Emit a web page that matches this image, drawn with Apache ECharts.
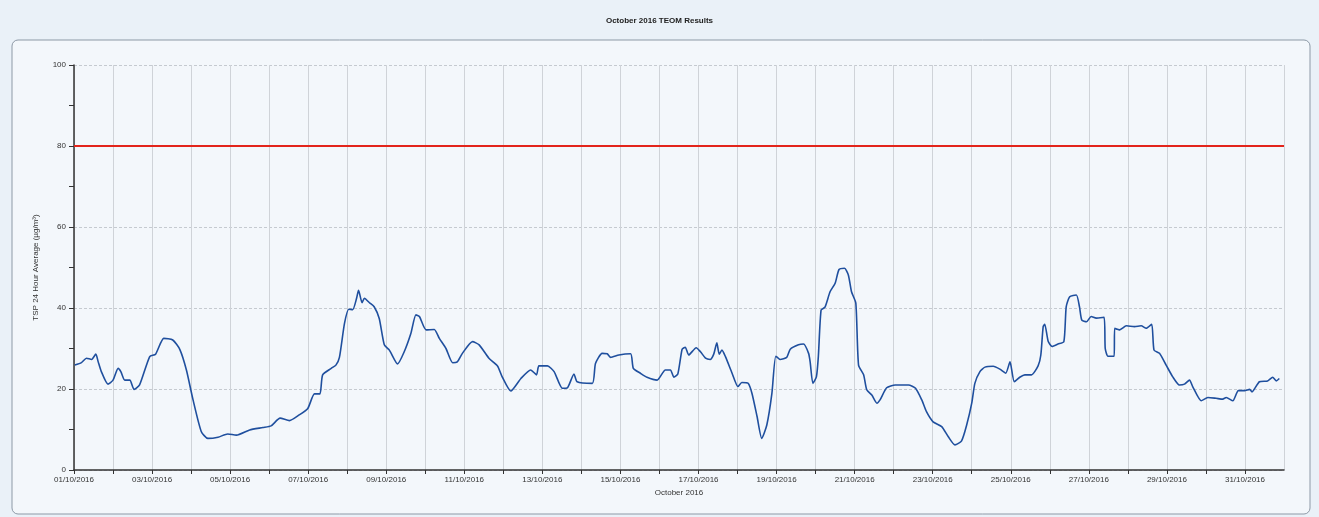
<!DOCTYPE html>
<html>
<head>
<meta charset="utf-8">
<script src="https://cdn.jsdelivr.net/npm/echarts@6/dist/echarts.min.js"></script>
<style>
html,body{margin:0;padding:0;background:#eaf1f8;}
#chart{width:1319px;height:517px;}
</style>
</head>
<body>
<div id="chart"></div>
<script>
// Day offsets from 01/10/2016 00:00 (fractional days)
const days = [0.02,0.19,0.32,0.45,0.56,0.62,0.70,0.87,1.00,1.13,1.20,1.30,1.43,1.54,1.68,1.94,2.09,2.30,2.53,2.71,2.88,3.05,3.26,3.43,3.69,3.94,4.16,4.50,4.84,5.05,5.28,5.52,5.77,5.99,6.16,6.30,6.37,6.59,6.71,6.80,6.93,7.04,7.14,7.24,7.29,7.38,7.44,7.57,7.69,7.82,7.95,8.08,8.29,8.46,8.63,8.76,8.85,9.02,9.23,9.36,9.53,9.70,9.82,9.95,10.21,10.38,10.63,10.85,10.97,11.19,11.45,11.70,11.85,11.91,12.13,12.30,12.51,12.64,12.81,12.89,13.28,13.36,13.53,13.66,13.75,13.96,14.26,14.33,14.51,14.68,14.94,15.15,15.28,15.37,15.47,15.58,15.66,15.75,15.94,16.05,16.18,16.30,16.39,16.47,16.53,16.60,16.69,16.86,17.01,17.11,17.27,17.37,17.50,17.62,17.75,17.88,17.98,18.09,18.26,18.35,18.56,18.69,18.82,18.86,18.93,19.02,19.07,19.14,19.24,19.37,19.50,19.60,19.74,19.84,19.92,20.03,20.10,20.23,20.31,20.44,20.57,20.65,20.82,21.04,21.38,21.56,21.72,21.84,22.01,22.23,22.40,22.57,22.74,22.87,23.00,23.08,23.21,23.34,23.55,23.72,23.87,23.98,24.09,24.23,24.36,24.53,24.70,24.77,24.83,24.87,24.96,25.06,25.21,25.36,25.42,25.51,25.68,25.76,25.82,25.94,26.06,26.19,26.39,26.42,26.49,26.65,26.66,26.79,26.96,27.17,27.34,27.47,27.61,27.67,27.81,27.98,28.15,28.32,28.45,28.58,28.66,28.88,29.05,29.26,29.43,29.52,29.69,29.83,29.99,30.12,30.18,30.37,30.58,30.71,30.80,30.88];
// TSP 24 hour average (µg/m³)
const tsp = [25.9,26.5,27.6,27.3,28.6,26.7,24.3,21.2,22.2,25.1,24.3,22.2,22.2,19.9,21.0,28.0,28.6,32.5,32.1,29.8,24.7,17.3,9.5,7.8,8.1,8.9,8.6,9.9,10.5,10.9,12.8,12.2,13.6,15.2,18.8,18.8,23.5,25.1,25.9,27.8,36.2,39.7,39.6,42.4,44.4,41.3,42.4,41.3,40.3,37.4,30.9,29.6,26.2,29.2,33.7,38.3,37.9,34.6,34.7,32.5,30.0,26.5,26.7,28.8,31.7,30.9,27.6,25.7,23.0,19.5,22.6,24.7,23.5,25.7,25.7,24.3,20.2,20.3,23.7,21.8,21.4,26.3,28.8,28.7,27.8,28.4,28.7,25.1,23.9,22.9,22.2,24.7,24.7,22.9,23.7,29.8,30.3,28.4,30.2,29.2,27.6,27.3,28.6,31.4,28.6,29.6,28.0,23.9,20.6,21.6,21.4,18.9,13.2,7.8,11.1,18.9,28.1,27.3,27.8,29.8,30.9,31.1,28.8,26.7,21.4,23.0,28.0,39.5,40.2,44.0,46.1,49.5,49.8,48.1,44.0,41.2,25.9,23.5,19.8,18.5,16.5,17.3,20.3,21.0,21.0,20.2,17.3,14.4,11.9,10.7,8.2,6.2,7.2,11.1,16.5,21.4,24.3,25.4,25.6,24.9,23.9,26.7,21.8,22.9,23.5,23.5,25.7,28.4,35.4,36.0,31.7,30.5,31.1,31.7,40.3,42.8,43.2,40.3,37.0,36.6,37.9,37.5,37.7,30.0,28.1,28.1,35.0,34.6,35.6,35.4,35.6,35.0,36.0,29.6,28.8,25.9,23.0,21.0,21.2,22.2,20.6,17.1,17.9,17.7,17.5,17.9,17.1,19.6,19.6,19.9,19.3,21.8,22.0,22.9,22.0,22.6];
// Limit line
const limitDays = [0, 31];
const limitValues = [80, 80];
// X tick labels (every second day)
const dateLabels = ['01/10/2016','03/10/2016','05/10/2016','07/10/2016','09/10/2016','11/10/2016','13/10/2016','15/10/2016','17/10/2016','19/10/2016','21/10/2016','23/10/2016','25/10/2016','27/10/2016','29/10/2016','31/10/2016'];

const chart = echarts.init(document.getElementById('chart'), null, {renderer:'canvas'});
const font = 'Liberation Sans, Arial, sans-serif';
chart.setOption({
  backgroundColor: '#eaf1f8',
  animation: false,
  title: {
    text: 'October 2016 TEOM Results',
    left: 'center', top: 12,
    textStyle: {fontFamily: font, fontSize: 8, fontWeight: 'bold', color: '#222'}
  },
  graphic: [{
    type: 'rect', z: -10,
    shape: {x: 12, y: 40, width: 1298, height: 474, r: 6},
    style: {fill: '#f3f7fb', stroke: '#8d99a6', lineWidth: 1}
  }],
  grid: {left: 74, right: 35, top: 65, bottom: 47, show: false},
  xAxis: {
    type: 'value', min: 0, max: 31, interval: 1,
    name: 'October 2016', nameLocation: 'middle', nameGap: 16,
    nameTextStyle: {fontFamily: font, fontSize: 8, color: '#333'},
    axisLine: {show: true, onZero: false, lineStyle: {color: '#333', width: 1.5}},
    axisTick: {show: true, length: 4, lineStyle: {color: '#333'}},
    axisLabel: {
      fontFamily: font, fontSize: 8, color: '#333', margin: 6, showMaxLabel: false,
      formatter: v => (v % 2 === 0 && dateLabels[v / 2]) ? dateLabels[v / 2] : ''
    },
    splitLine: {show: true, lineStyle: {color: '#cfd3d8', width: 1}}
  },
  yAxis: {
    type: 'value', min: 0, max: 100, interval: 20,
    name: 'TSP 24 Hour Average (µg/m³)', nameLocation: 'middle', nameGap: 34, nameRotate: 90,
    nameTextStyle: {fontFamily: font, fontSize: 8, color: '#333'},
    axisLine: {show: true, lineStyle: {color: '#333', width: 1.5}},
    axisTick: {show: true, length: 5, lineStyle: {color: '#333'}},
    minorTick: {show: true, splitNumber: 2, length: 5, lineStyle: {color: '#333'}},
    axisLabel: {fontFamily: font, fontSize: 8, color: '#333', margin: 8},
    splitLine: {show: true, lineStyle: {color: '#c5cad0', type: [3, 2], width: 1}}
  },
  series: [
    {
      name: 'Limit', type: 'line', showSymbol: false, z: 3,
      data: limitDays.map((d, i) => [d, limitValues[i]]),
      lineStyle: {color: '#e3241b', width: 2}
    },
    {
      name: 'TSP', type: 'line', showSymbol: false, z: 4, smooth: 0.2,
      data: days.map((d, i) => [d, tsp[i]]),
      lineStyle: {color: '#1f4f9e', width: 1.6}
    }
  ]
});
</script>
</body>
</html>
